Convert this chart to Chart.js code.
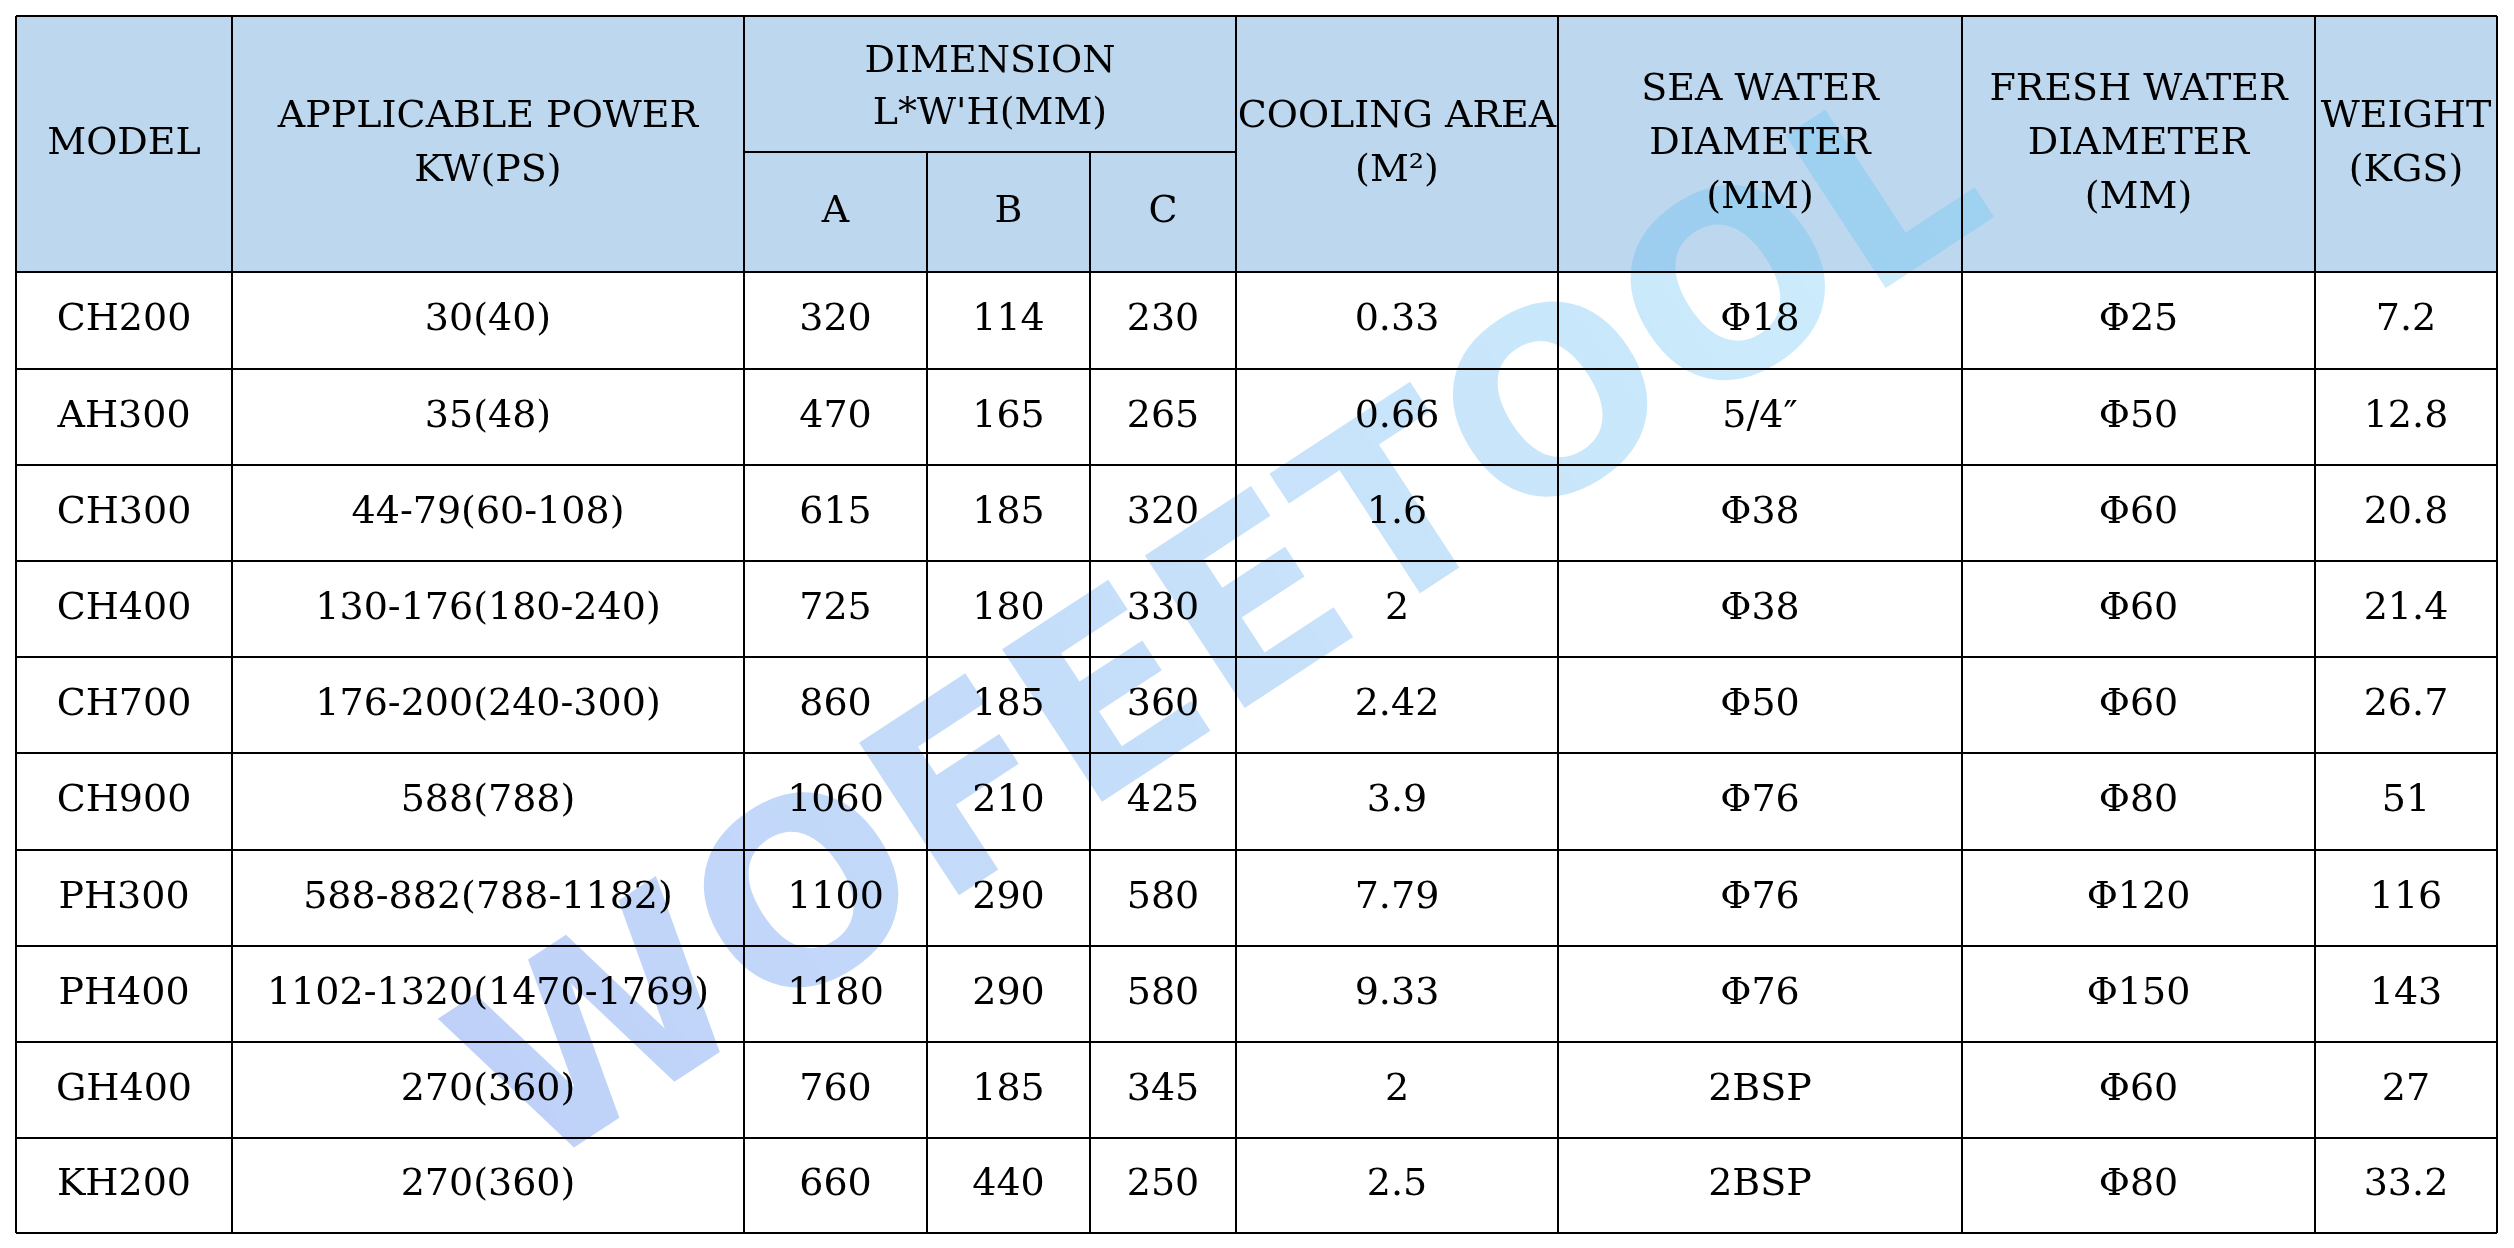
<!DOCTYPE html>
<html><head><meta charset="utf-8">
<script src="https://cdn.jsdelivr.net/npm/chart.js@4/dist/chart.umd.min.js"></script>
<style>html,body{margin:0;padding:0;background:#fff}#wrap{width:2514px;height:1248px}</style>
</head><body><div id="wrap"><canvas id="c"></canvas></div>
<script>
// table contents
const models = ['CH200','AH300','CH300','CH400','CH700','CH900','PH300','PH400','GH400','KH200'];
const power = ['30(40)','35(48)','44-79(60-108)','130-176(180-240)','176-200(240-300)','588(788)','588-882(788-1182)','1102-1320(1470-1769)','270(360)','270(360)'];
const dimA = ['320','470','615','725','860','1060','1100','1180','760','660'];
const dimB = ['114','165','185','180','185','210','290','290','185','440'];
const dimC = ['230','265','320','330','360','425','580','580','345','250'];
const coolingArea = ['0.33','0.66','1.6','2','2.42','3.9','7.79','9.33','2','2.5'];
const seaWater = ['Φ18','5/4″','Φ38','Φ38','Φ50','Φ76','Φ76','Φ76','2BSP','2BSP'];
const freshWater = ['Φ25','Φ50','Φ60','Φ60','Φ60','Φ80','Φ120','Φ150','Φ60','Φ80'];
const weight = ['7.2','12.8','20.8','21.4','26.7','51','116','143','27','33.2'];

// layout (pixel units of the scales)
const colX = [16, 232, 744, 927, 1090, 1236, 1558, 1962, 2315, 2497];
const rowY = [16, 272, 369, 465, 561, 657, 753, 850, 946, 1042, 1138, 1233];
const subY = 152;
const FONT = '38px "DejaVu Serif", "Liberation Serif", serif';

const tablePlugin = {
  id: 'table',
  afterDatasetsDraw(chart) {
    const ctx = chart.ctx, xs = chart.scales.x, ys = chart.scales.y;
    const X = v => xs.getPixelForValue(v), Y = v => ys.getPixelForValue(v);
    ctx.save();
    // header background
    ctx.fillStyle = '#bdd7ee';
    ctx.fillRect(X(colX[0]), Y(rowY[0]), X(colX[9]) - X(colX[0]), Y(rowY[1]) - Y(rowY[0]));
    // watermark
    ctx.save();
    ctx.translate(X(1230), Y(640));
    ctx.rotate(-0.58);
    ctx.font = 'bold 250px "DejaVu Sans", sans-serif';
    ctx.textAlign = 'center'; ctx.textBaseline = 'middle';
    const g = ctx.createLinearGradient(-900, 0, 900, 0);
    g.addColorStop(0, 'rgba(70,120,235,0.35)');
    g.addColorStop(1, 'rgba(90,200,245,0.3)');
    ctx.fillStyle = g;
    ctx.fillText('WOFEETOOL', 0, 0);
    ctx.restore();
    // grid
    ctx.strokeStyle = '#000'; ctx.lineWidth = 2;
    ctx.beginPath();
    rowY.forEach(y => { ctx.moveTo(X(colX[0]), Y(y)); ctx.lineTo(X(colX[9]), Y(y)); });
    ctx.moveTo(X(colX[2]), Y(subY)); ctx.lineTo(X(colX[5]), Y(subY));
    colX.forEach((x, i) => {
      const top = (i === 3 || i === 4) ? subY : rowY[0];
      ctx.moveTo(X(x), Y(top)); ctx.lineTo(X(x), Y(rowY[11]));
    });
    ctx.stroke();
    // text
    ctx.fillStyle = '#000'; ctx.font = FONT;
    ctx.textAlign = 'center'; ctx.textBaseline = 'middle';
    const cx = i => (X(colX[i]) + X(colX[i + 1])) / 2;
    const lines = (i, arr, yc) => arr.forEach((t, k) =>
      ctx.fillText(t, cx(i), Y(yc) + (k - (arr.length - 1) / 2) * 54));
    const hc = (rowY[0] + rowY[1]) / 2;
    lines(0, ['MODEL'], hc);
    lines(1, ['APPLICABLE POWER', 'KW(PS)'], hc);
    ctx.fillText('DIMENSION', (X(colX[2]) + X(colX[5])) / 2, Y(62));
    ctx.fillText("L*W'H(MM)", (X(colX[2]) + X(colX[5])) / 2, Y(114));
    ['A', 'B', 'C'].forEach((t, k) => ctx.fillText(t, cx(2 + k), Y((subY + rowY[1]) / 2)));
    lines(5, ['COOLING AREA', '(M²)'], hc);
    lines(6, ['SEA WATER', 'DIAMETER', '(MM)'], hc);
    lines(7, ['FRESH WATER', 'DIAMETER', '(MM)'], hc);
    lines(8, ['WEIGHT', '(KGS)'], hc);
    const cols = [models, power, dimA, dimB, dimC, coolingArea, seaWater, freshWater, weight];
    models.forEach((m, r) => {
      const yc = (rowY[r + 1] + rowY[r + 2]) / 2;
      cols.forEach((arr, i) => ctx.fillText(arr[r], cx(i), Y(yc)));
    });
    ctx.restore();
  }
};

new Chart(document.getElementById('c'), {
  type: 'scatter',
  data: { datasets: [{ data: [] }] },
  options: {
    responsive: true, maintainAspectRatio: false, animation: false,
    layout: { padding: 0 },
    plugins: { legend: { display: false }, tooltip: { enabled: false } },
    scales: {
      x: { type: 'linear', min: 0, max: 2514, display: false },
      y: { type: 'linear', min: 0, max: 1248, reverse: true, display: false }
    }
  },
  plugins: [tablePlugin]
});
</script></body></html>
